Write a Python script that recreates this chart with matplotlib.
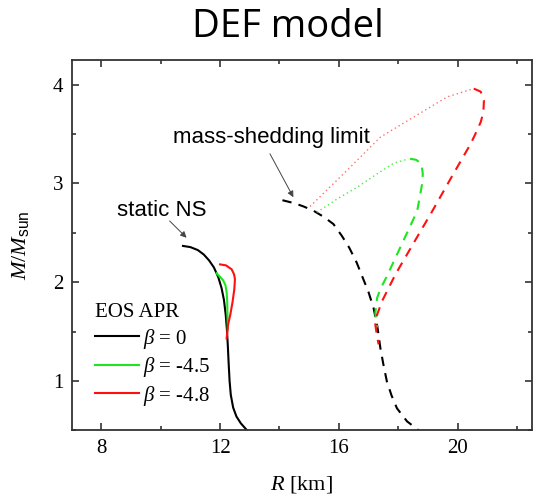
import matplotlib
matplotlib.use('Agg')
import matplotlib.pyplot as plt
from matplotlib.ticker import MultipleLocator

plt.rcParams['font.family'] = 'Liberation Serif'
plt.rcParams['mathtext.fontset'] = 'custom'
plt.rcParams['mathtext.rm'] = 'Liberation Serif'
plt.rcParams['mathtext.it'] = 'Liberation Serif:italic'
plt.rcParams['mathtext.sf'] = 'Liberation Sans'

# static NS, beta = 0 (solid)
r_static = [10.75, 11.0, 11.25, 11.45, 11.63, 11.79, 11.94, 12.05, 12.13, 12.19, 12.23,
            12.26, 12.29, 12.32, 12.36, 12.44, 12.55, 12.70, 12.95]
m_static = [2.367, 2.355, 2.325, 2.28, 2.22, 2.15, 2.05, 1.94, 1.82, 1.67, 1.52,
            1.36, 1.17, 1.0, 0.86, 0.73, 0.64, 0.57, 0.485]

# static NS, beta = -4.5 / -4.8 (solid)
r_static_45 = [11.88, 11.98, 12.10, 12.18, 12.22, 12.24, 12.25, 12.26]
m_static_45 = [2.09, 2.06, 2.02, 1.97, 1.90, 1.80, 1.65, 1.52]
r_static_48 = [12.0, 12.2, 12.39, 12.47, 12.50, 12.48, 12.42, 12.35, 12.27, 12.22]
m_static_48 = [2.18, 2.17, 2.13, 2.08, 2.03, 1.93, 1.80, 1.68, 1.57, 1.43]

# mass-shedding limit, beta = 0 (dashed)
r_kep = [14.1, 14.5, 14.81, 15.15, 15.5, 15.82, 16.1, 16.35, 16.6, 16.8, 17.0, 17.17,
         17.3, 17.4, 17.5, 17.62, 17.78, 17.96, 18.3, 18.69]
m_kep = [2.83, 2.80, 2.767, 2.723, 2.66, 2.588, 2.47, 2.35, 2.2, 2.05, 1.9, 1.74,
         1.55, 1.333, 1.17, 0.994, 0.85, 0.722, 0.59, 0.50]

# mass-shedding, beta = -4.5: dotted (upper) and dashed branch
r_kep_45_dot = [15.26, 15.94, 16.61, 17.29, 17.85, 18.35]
m_kep_45_dot = [2.706, 2.842, 2.96, 3.097, 3.205, 3.249]
r_kep_45 = [18.4, 18.6, 18.78, 18.83, 18.81, 18.72, 18.64, 18.30, 17.96, 17.62,
            17.40, 17.29, 17.23, 17.26, 17.29]
m_kep_45 = [3.25, 3.24, 3.20, 3.10, 3.0, 2.85, 2.72, 2.50, 2.28, 2.06,
            1.93, 1.84, 1.69, 1.60, 1.54]

# mass-shedding, beta = -4.8: dotted (upper) and dashed branch
r_kep_48_dot = [15.03, 16.27, 17.40, 18.52, 19.65, 20.55]
m_kep_48_dot = [2.767, 3.13, 3.469, 3.672, 3.876, 3.961]
r_kep_48 = [20.55, 20.78, 20.89, 20.87, 20.78, 20.60, 20.44, 19.79, 19.15, 18.47,
            17.91, 17.46, 17.29, 17.23, 17.28, 17.34]
m_kep_48 = [3.96, 3.93, 3.84, 3.72, 3.62, 3.50, 3.40, 3.06, 2.72, 2.37,
            2.08, 1.81, 1.67, 1.57, 1.47, 1.37]

green = '#1ee61e'
red = '#ff1010'

fig = plt.figure(figsize=(5.39, 4.98), dpi=100)
ax = fig.add_axes([0.133, 0.136, 0.8535, 0.7435])

ax.plot(r_static, m_static, color='black', lw=1.5, label=r'$\beta$ = 0')
ax.plot(r_static_45, m_static_45, color=green, lw=1.5, label=r'$\beta$ = -4.5')
ax.plot(r_static_48, m_static_48, color=red, lw=1.5, label=r'$\beta$ = -4.8')

ax.plot(r_kep, m_kep, color='black', lw=1.5, dashes=(4.5, 3.5))
ax.plot(r_kep_45, m_kep_45, color=green, lw=1.5, dashes=(4.5, 3.5))
ax.plot(r_kep_48, m_kep_48, color=red, lw=1.5, dashes=(4.5, 3.5))
ax.plot(r_kep_45_dot, m_kep_45_dot, color=green, lw=1.0, dashes=(1, 2.2), alpha=0.8)
ax.plot(r_kep_48_dot, m_kep_48_dot, color=red, lw=1.0, dashes=(1, 2.2), alpha=0.6)

ax.set_xlim(7, 22.5)
ax.set_ylim(0.5, 4.25)
ax.xaxis.set_major_locator(MultipleLocator(4))
ax.xaxis.set_minor_locator(MultipleLocator(2))
ax.yaxis.set_major_locator(MultipleLocator(1))
ax.yaxis.set_minor_locator(MultipleLocator(0.5))
ax.tick_params(which='both', direction='in', top=True, right=True,
               labelsize=15, color='#333333', width=1.2)
ax.tick_params(which='major', length=5, pad=6)
ax.tick_params(which='minor', length=3)
for s in ax.spines.values():
    s.set_color('#333333')
    s.set_linewidth(1.3)

ax.set_xlabel(r'$R$ [km]', fontsize=16, labelpad=12)
ax.set_ylabel(r'$M/M_{\mathsf{sun}}$', fontsize=16, labelpad=16)

ax.text(10.04, 2.672, 'static NS', family='Liberation Sans', fontsize=16,
        ha='center', va='baseline')
ax.text(13.72, 3.405, 'mass-shedding limit', family='Liberation Sans', fontsize=16,
        ha='center', va='baseline')
arrow = dict(arrowstyle='-|>', color='#444444', lw=0.7, mutation_scale=9,
             shrinkA=0, shrinkB=0)
ax.annotate('', xy=(10.87, 2.45), xytext=(10.30, 2.62), arrowprops=arrow)
ax.annotate('', xy=(14.47, 2.86), xytext=(13.68, 3.30), arrowprops=arrow)

leg = ax.legend(title='EOS APR', loc='upper left', frameon=False, fontsize=15,
                title_fontsize=15, bbox_to_anchor=(95 / 539, 1 - 303 / 498),
                bbox_transform=fig.transFigure, borderpad=0, borderaxespad=0,
                handlelength=2.1, handletextpad=0.2, labelspacing=0.22)
leg._legend_box.align = 'left'

fig.text(0.535, 1 - 37 / 498, 'DEF model', family='Open Sans', fontsize=27.5,
         ha='center', va='baseline')

fig.savefig('out.png', dpi=100)
